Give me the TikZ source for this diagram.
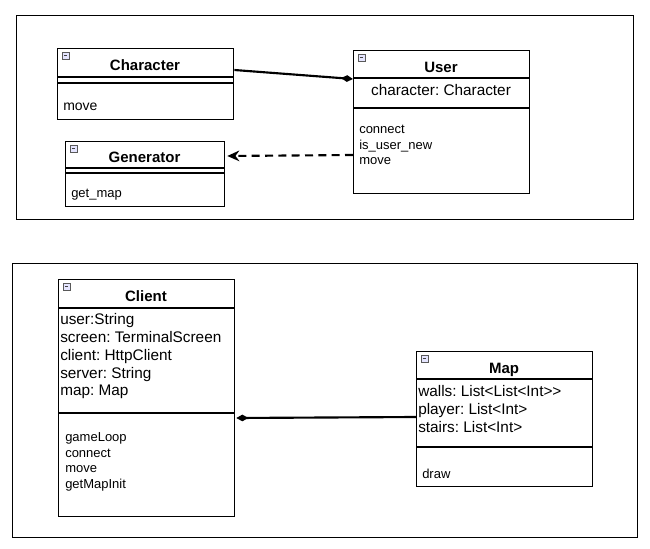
\documentclass[tikz,border=0pt]{standalone}
\usepackage{fontspec}
\setmainfont{Liberation Sans}
\usetikzlibrary{arrows.meta,calc}
\frenchspacing
\tikzset{
  box/.style={draw, line width=1pt, inner sep=0pt, anchor=north west},
  frame/.style={draw, line width=0.8pt},
  sep/.style={line width=1pt},
  ttl/.style={font=\fontsize{11.25pt}{13pt}\selectfont\bfseries, inner sep=0pt, text height=8.1pt, text depth=0pt},
  attr/.style={font=\fontsize{11.5pt}{13pt}\selectfont, inner sep=0pt, anchor=west, text height=8.2pt, text depth=0pt},
  meth/.style={font=\fontsize{9.75pt}{11pt}\selectfont, inner sep=0pt, anchor=west, text height=7pt, text depth=0pt},
  conn/.style={line width=1.6pt},
  icon/.style={draw=gray!70!black, fill=blue!10, line width=0.6pt},
}
\newcommand\clsbox[5]{\node[box, minimum width={(#4-#2)*0.75pt}, minimum height={(#5-#3)*0.75pt}] (#1) at (#2,#3) {};
  \draw[icon] (#2+5,#3+4) rectangle (#2+12,#3+11);
  \draw[line width=1pt, gray!50!black] (#2+6.8,#3+7.5) -- (#2+10.2,#3+7.5);}
\begin{document}
\begin{tikzpicture}[x=0.75pt,y=-0.75pt]
\useasboundingbox (0,0) rectangle (650,549);
% frames
\node[frame, anchor=north west, inner sep=0pt, minimum width={617*0.75pt}, minimum height={204*0.75pt}] (topframe) at (16,15) {};
\node[frame, anchor=north west, inner sep=0pt, minimum width={625*0.75pt}, minimum height={274*0.75pt}] (botframe) at (12,263) {};

% Character
\clsbox{character}{57}{48}{233}{119}
\draw[sep] (57,77) -- (233,77);
\draw[sep] (57,83) -- (233,83);
\node[ttl] (charT) at (145,65) {Character};
\node[meth, font=\fontsize{10.5pt}{12pt}\selectfont] (charM) at (63,106) {move};

% Generator
\clsbox{generator}{65}{141}{224}{206}
\draw[sep] (65,168) -- (224,168);
\draw[sep] (65,173) -- (224,173);
\node[ttl] (genT) at (144.5,157) {Generator};
\node[meth] (genM) at (71,193) {get\_map};

% User
\clsbox{user}{353}{50}{529}{193}
\draw[sep] (353,78) -- (529,78);
\draw[sep] (353,108) -- (529,108);
\node[ttl] (userT) at (441,67) {User};
\node[attr, anchor=center] (userA) at (441,90) {character: Character};
\node[meth] (userM1) at (359,129) {connect};
\node[meth] (userM2) at (359,145) {is\_user\_new};
\node[meth] (userM3) at (359,160) {move};

% Client
\clsbox{client}{58}{279}{234}{516}
\draw[sep] (58,308) -- (234,308);
\draw[sep] (58,413) -- (234,413);
\node[ttl] (clientT) at (146,296) {Client};
\node[attr] (cA1) at (60,319) {user:String};
\node[attr] (cA2) at (60,337) {screen: TerminalScreen};
\node[attr] (cA3) at (60,355) {client: HttpClient};
\node[attr] (cA4) at (60,373) {server: String};
\node[attr] (cA5) at (60,390.5) {map: Map};
\node[meth] (cM1) at (65,437) {gameLoop};
\node[meth] (cM2) at (65,452.5) {connect};
\node[meth] (cM3) at (65,468) {move};
\node[meth] (cM4) at (65,483.5) {getMapInit};

% Map
\clsbox{map}{416}{351}{592}{486}
\draw[sep] (416,379) -- (592,379);
\draw[sep] (416,447) -- (592,447);
\node[ttl] (mapT) at (504,368) {Map};
\node[attr] (mA1) at (418,391) {walls: List<List<Int>{}>};
\node[attr] (mA2) at (418,409) {player: List<Int>};
\node[attr] (mA3) at (418,427) {stairs: List<Int>};
\node[meth] (mM1) at (422,473.5) {draw};

% connectors
\draw[conn, -{Diamond[length=9pt,width=5pt]}] ($(character.north east)+(0,22)$) -- ($(user.north west)+(0,29)$);
\draw[conn, dashed, dash pattern=on 6pt off 4pt, -{Stealth[length=9pt,width=8pt]}] ($(user.north west)+(0,105)$) -- ($(generator.north east)+(2,15)$);
\draw[conn, -{Diamond[length=9pt,width=5pt]}] ($(map.north west)+(0,66)$) -- ($(client.north east)+(1,139)$);
\end{tikzpicture}
\end{document}
